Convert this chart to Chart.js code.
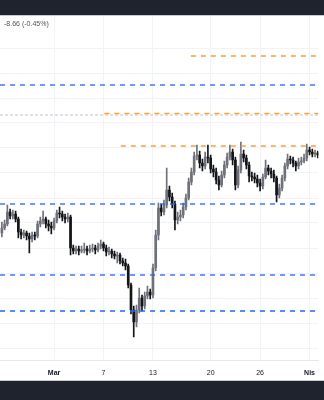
<!DOCTYPE html>
<html>
<head>
<meta charset="utf-8">
<script src="https://cdn.jsdelivr.net/npm/chart.js@4.4.1/dist/chart.umd.min.js"></script>
<style>
  html, body { margin: 0; padding: 0; background: #fff; }
  #page { position: relative; width: 324px; height: 400px; overflow: hidden; font-family: "Liberation Sans", Arial, sans-serif; }
  #wrap { position: absolute; left: 0; top: 15px; width: 324px; height: 365px; }
  .band { position: absolute; left: 0; width: 324px; background: #1f232e; }
  #top { top: 0; height: 15px; border-bottom: 1px solid #c8cad0; }
  #bottom { top: 380px; height: 20px; border-top: 1px solid #c8cad0; }
  #change { position: absolute; left: 4px; top: 19px; font-size: 7px; line-height: 9px; color: #50535e; }
</style>
</head>
<body>
<div id="page">
  <div id="wrap"><canvas id="chart" width="324" height="365"></canvas></div>
  <div class="band" id="top"></div>
  <div class="band" id="bottom"></div>
  <div id="change"></div>
</div>
<script>
// 8h candles, time counted in days from 1 Mar (first candle 22 Feb 16:00)
const firstDay = -19 / 3;
const step = 1 / 3;

const open = [
  1847, 1852, 1856, 1868, 1864, 1866, 1861, 1848, 1845, 1847,
  1844, 1841, 1845, 1844, 1856, 1859, 1861, 1856, 1854, 1852,
  1859, 1867, 1866, 1863, 1861, 1863, 1832, 1829, 1831, 1829,
  1830, 1831, 1829, 1831, 1832, 1830, 1834, 1836, 1832, 1828,
  1829, 1826, 1824, 1825, 1819, 1817, 1814, 1795, 1770, 1758,
  1770, 1782, 1774, 1784, 1788, 1785, 1812, 1845, 1872, 1868,
  1875, 1890, 1883, 1876, 1860, 1863, 1865, 1873, 1882, 1898,
  1908, 1924, 1925, 1917, 1914, 1923, 1922, 1911, 1908, 1900,
  1895, 1905, 1915, 1923, 1928, 1920, 1895, 1910, 1926, 1922,
  1915, 1904, 1903, 1901, 1897, 1894, 1903, 1912, 1909, 1906,
  1902, 1885, 1892, 1902, 1914, 1921, 1920, 1917, 1914, 1918,
  1919, 1922, 1930, 1928, 1926, 1927
];
const high = [
  1858, 1860, 1875, 1871, 1870, 1869, 1863, 1851, 1850, 1849,
  1847, 1848, 1848, 1859, 1863, 1869, 1863, 1860, 1858, 1862,
  1870, 1873, 1869, 1866, 1867, 1865, 1835, 1834, 1834, 1834,
  1837, 1834, 1835, 1836, 1835, 1837, 1840, 1838, 1835, 1833,
  1831, 1829, 1828, 1827, 1822, 1821, 1816, 1797, 1774, 1775,
  1792, 1785, 1788, 1794, 1791, 1816, 1850, 1877, 1876, 1880,
  1912, 1894, 1887, 1879, 1868, 1870, 1877, 1886, 1902, 1912,
  1928, 1935, 1929, 1921, 1928, 1935, 1925, 1915, 1912, 1904,
  1909, 1919, 1927, 1935, 1931, 1923, 1914, 1938, 1930, 1925,
  1918, 1908, 1907, 1905, 1901, 1906, 1920, 1915, 1912, 1910,
  1904, 1896, 1905, 1917, 1926, 1924, 1923, 1919, 1922, 1923,
  1926, 1936, 1933, 1931, 1930, 1929
];
const low = [
  1843, 1850, 1854, 1861, 1861, 1858, 1842, 1841, 1842, 1840,
  1827, 1838, 1840, 1842, 1853, 1856, 1852, 1849, 1846, 1850,
  1857, 1862, 1859, 1857, 1858, 1825, 1826, 1826, 1825, 1827,
  1827, 1825, 1827, 1828, 1826, 1828, 1831, 1829, 1824, 1825,
  1822, 1821, 1817, 1816, 1814, 1810, 1792, 1766, 1743, 1753,
  1767, 1769, 1771, 1781, 1781, 1782, 1809, 1840, 1864, 1865,
  1872, 1879, 1872, 1850, 1856, 1859, 1862, 1870, 1880, 1895,
  1905, 1920, 1912, 1909, 1911, 1917, 1907, 1903, 1896, 1890,
  1893, 1902, 1912, 1920, 1915, 1890, 1892, 1907, 1918, 1911,
  1898, 1899, 1897, 1893, 1889, 1891, 1901, 1905, 1902, 1898,
  1878, 1882, 1889, 1899, 1911, 1916, 1913, 1909, 1911, 1915,
  1917, 1919, 1925, 1923, 1923, 1922
];
const close = [
  1852, 1856, 1868, 1864, 1866, 1861, 1848, 1845, 1847, 1844,
  1841, 1845, 1844, 1856, 1859, 1861, 1856, 1854, 1852, 1859,
  1867, 1866, 1863, 1861, 1863, 1832, 1829, 1831, 1829, 1830,
  1831, 1829, 1831, 1832, 1830, 1834, 1836, 1832, 1828, 1829,
  1826, 1824, 1825, 1819, 1817, 1814, 1795, 1770, 1758, 1770,
  1782, 1774, 1784, 1788, 1785, 1812, 1845, 1872, 1868, 1875,
  1890, 1883, 1876, 1860, 1863, 1865, 1873, 1882, 1898, 1908,
  1924, 1925, 1917, 1914, 1923, 1922, 1911, 1908, 1900, 1895,
  1905, 1915, 1923, 1928, 1920, 1895, 1910, 1926, 1922, 1915,
  1904, 1903, 1901, 1897, 1894, 1903, 1912, 1909, 1906, 1902,
  1885, 1892, 1902, 1914, 1921, 1920, 1917, 1914, 1918, 1919,
  1922, 1930, 1928, 1926, 1927, 1925
];

const changeText = '-8.66 (-0.45%)';

const tickDays = [0, 6, 12, 19, 25, 31];
const tickLabels = ['Mar', '7', '13', '20', '26', 'Nis'];
const monthTicks = ['Mar', 'Nis'];
const gridPrices = [2032, 2007, 1982, 1957, 1932, 1907, 1882, 1857, 1832, 1807, 1782, 1757, 1732];

const blueLevels = [1995, 1876, 1805, 1769];
const orangeLevels = [2024, 1966.5, 1934];
const orangeFrom = [16.6, 6.1, 8.1];
const grayLevels = [1965];

const xMin = -6.56, xMax = 32.07;
const yMin = 1720, yMax = 2065;

document.getElementById('change').textContent = changeText;

const times = close.map((c, i) => firstDay + i * step);
const upColor = '#6e7179';
const downColor = '#141519';
function candleColor(ctx) {
    const i = ctx.dataIndex;
    return close[i] >= open[i] ? upColor : downColor;
}

function levelLine(y, from, color, width, dash) {
    return {
        type: 'line',
        data: [{ x: from, y: y }, { x: xMax, y: y }],
        borderColor: color,
        backgroundColor: color,
        borderWidth: width,
        borderDash: dash,
        pointRadius: 0,
        fill: false,
        order: 0
    };
}

const datasets = [
    {
        type: 'bar',
        data: times.map((t, i) => ({ x: t, y: [low[i], high[i]] })),
        backgroundColor: candleColor,
        barThickness: 1,
        grouped: false,
        order: 2
    },
    {
        type: 'bar',
        data: times.map((t, i) => ({ x: t, y: [open[i], close[i]] })),
        backgroundColor: candleColor,
        barThickness: 2,
        minBarLength: 1,
        grouped: false,
        order: 1
    }
];
grayLevels.forEach(v => datasets.push(levelLine(v, xMin, '#c4c4c4', 1, [3, 2])));
blueLevels.forEach(v => datasets.push(levelLine(v, xMin, '#2962ff', 1.3, [5, 5])));
orangeLevels.forEach((v, i) => datasets.push(levelLine(v, orangeFrom[i], '#ff9f2e', 1.3, [5, 5])));

const ctx = document.getElementById('chart').getContext('2d');
new Chart(ctx, {
    type: 'bar',
    data: { datasets: datasets },
    options: {
        responsive: false,
        devicePixelRatio: 1,
        animation: false,
        layout: { padding: 0 },
        plugins: { legend: { display: false }, tooltip: { enabled: false } },
        scales: {
            x: {
                type: 'linear',
                min: xMin,
                max: xMax,
                offset: false,
                afterBuildTicks: s => { s.ticks = tickDays.map(v => ({ value: v })); },
                afterFit: s => { s.height = 20; },
                grid: { color: '#f0f3fa', drawTicks: false, offset: false },
                border: { display: true, color: '#e6e8ee' },
                ticks: {
                    autoSkip: false,
                    maxRotation: 0,
                    padding: 9,
                    color: '#131722',
                    font: c => ({
                        family: '"Liberation Sans", Arial, sans-serif',
                        size: 7,
                        weight: monthTicks.includes(tickLabels[c.index]) ? 'bold' : 'normal'
                    }),
                    callback: (v, i) => tickLabels[i]
                }
            },
            y: {
                type: 'linear',
                position: 'right',
                min: yMin,
                max: yMax,
                afterBuildTicks: s => { s.ticks = gridPrices.map(v => ({ value: v })); },
                afterFit: s => { s.width = 0; },
                ticks: { display: false },
                grid: { color: '#f0f3fa', drawTicks: false },
                border: { display: false }
            }
        }
    }
});
</script>
</body>
</html>
